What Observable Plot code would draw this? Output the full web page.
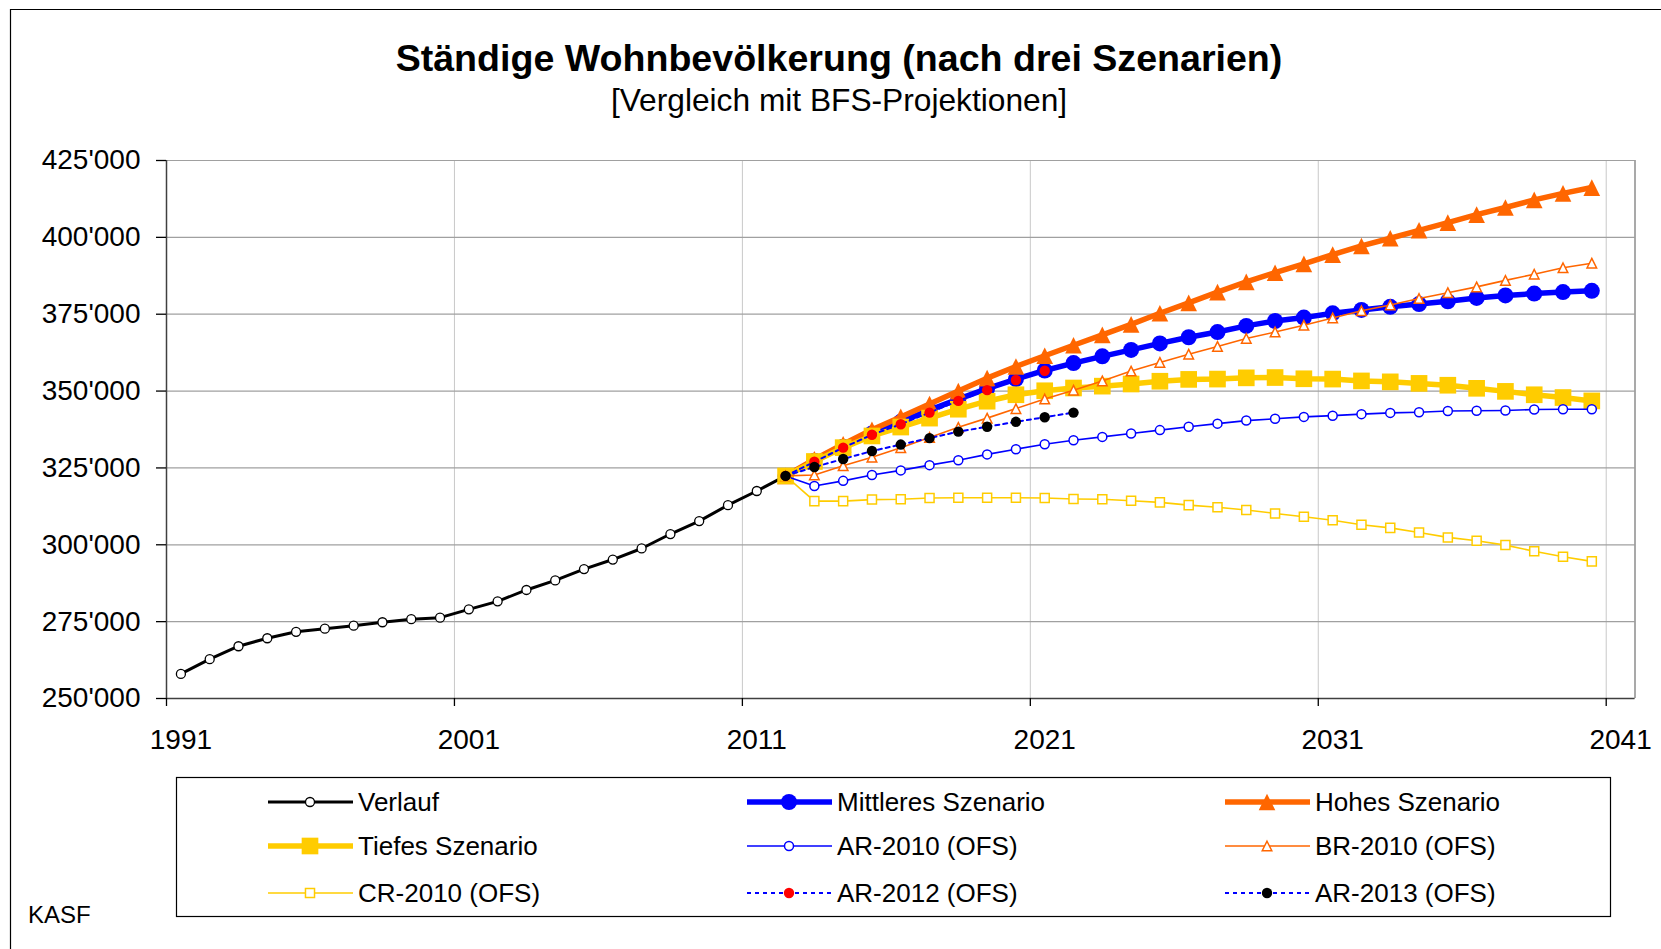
<!DOCTYPE html>
<html><head><meta charset="utf-8">
<script src="https://cdn.jsdelivr.net/npm/d3@7"></script>
<script src="https://cdn.jsdelivr.net/npm/@observablehq/plot@0.6"></script>
<style>
html,body{margin:0;padding:0;background:#fff;}
#wrap{position:relative;width:1661px;height:949px;overflow:hidden;font-family:"Liberation Sans",Arial,sans-serif;background:#fff;}
#chart{position:absolute;left:0;top:0;}
#overlay{position:absolute;left:0;top:0;}
</style></head><body><div id="wrap"><div id="chart"></div></div>
<script>
// ---------- data ----------
const histYears = [1991,1992,1993,1994,1995,1996,1997,1998,1999,2000,2001,2002,2003,2004,2005,2006,2007,2008,2009,2010,2011,2012];
const verlauf = [258000,262800,267000,269600,271700,272700,273700,274800,275800,276300,279000,281600,285300,288400,292100,295200,298800,303500,307700,312900,317500,322400];

const projYears = [2012,2013,2014,2015,2016,2017,2018,2019,2020,2021,2022,2023,2024,2025,2026,2027,2028,2029,2030,2031,2032,2033,2034,2035,2036,2037,2038,2039,2040];
const mittleres = [322400,327300,331900,336200,340000,343800,347400,350800,353900,356700,359100,361300,363400,365500,367500,369200,371200,372800,373900,375300,376400,377400,378300,379200,380300,381100,381700,382200,382600];
const hohes = [322400,327800,332700,337400,341600,345800,350000,354200,358000,361500,364900,368300,371700,375300,378700,382200,385500,388500,391400,394400,397200,399700,402300,404800,407400,409700,412200,414300,416200];
const tiefes = [322400,327100,331600,335400,338300,341200,344100,346700,348800,350100,351000,351600,352300,353200,353800,353900,354300,354400,354000,353900,353300,353000,352500,351900,350900,349900,348800,347900,346800];
const ar2010 = [322400,319100,320800,322700,324200,325900,327500,329400,331100,332700,334000,335100,336200,337300,338400,339400,340400,341000,341600,342000,342500,342900,343100,343500,343600,343700,344000,344100,344100];
const br2010 = [322400,322700,325700,328500,331600,334900,338200,341200,344300,347400,350300,353300,356500,359300,362000,364500,367100,369200,371400,373800,376100,378000,380100,382000,383900,386000,388000,390100,391600];
const cr2010 = [322400,314200,314200,314700,314800,315200,315300,315300,315300,315200,314900,314800,314300,313800,312900,312200,311300,310200,309100,308000,306500,305500,304000,302400,301300,299900,297900,296100,294600];
const ar2012Years = [2012,2013,2014,2015,2016,2017,2018,2019,2020,2021];
const ar2012 = [322400,327000,331600,335800,339200,343000,346800,350300,353600,356600];
const ar2013Years = [2012,2013,2014,2015,2016,2017,2018,2019,2020,2021,2022];
const ar2013 = [322400,325300,327900,330500,332600,334700,336800,338400,340000,341500,343000];

const yTicks = [250000,275000,300000,325000,350000,375000,400000,425000];
const xLabelYears = [1991,2001,2011,2021,2031,2041];
const xBoundaries = [1990.5,2000.5,2010.5,2020.5,2030.5,2040.5];

const title = "Ständige Wohnbevölkerung (nach drei Szenarien)";
const subtitle = "[Vergleich mit BFS-Projektionen]";
const source = "KASF";

// ---------- styles ----------
// Excel-like triangle: as wide as tall, centred on its bounding box
const excelTriangle = {
  draw(ctx, size) {
    const h = Math.sqrt(size) / 2;
    ctx.moveTo(0, -h); ctx.lineTo(h, h); ctx.lineTo(-h, h); ctx.closePath();
  }
};
const symbols = {circle:d3.symbolCircle, triangle:excelTriangle, square:d3.symbolSquare};

const BLUE="#0000ff", ORANGE="#ff6600", YELLOW="#ffcc00", RED="#ff0000", BLACK="#000000";
const series = [
  {name:"Verlauf", years:histYears, values:verlauf, stroke:BLACK, sw:3, symbol:"circle", r:4.5, fill:"#fff", mstroke:BLACK, msw:1.3},
  {name:"Mittleres Szenario", years:projYears, values:mittleres, stroke:BLUE, sw:5.5, symbol:"circle", r:8, fill:BLUE, mstroke:BLUE, msw:0},
  {name:"Hohes Szenario", years:projYears, values:hohes, stroke:ORANGE, sw:5.5, symbol:"triangle", r:9.4, fill:ORANGE, mstroke:ORANGE, msw:0},
  {name:"Tiefes Szenario", years:projYears, values:tiefes, stroke:YELLOW, sw:5.5, symbol:"square", r:9.4, fill:YELLOW, mstroke:YELLOW, msw:0},
  {name:"AR-2010 (OFS)", years:projYears, values:ar2010, stroke:BLUE, sw:1.6, symbol:"circle", r:4.5, fill:"#fff", mstroke:BLUE, msw:1.5},
  {name:"BR-2010 (OFS)", years:projYears, values:br2010, stroke:ORANGE, sw:1.6, symbol:"triangle", r:5.4, fill:"#fff", mstroke:ORANGE, msw:1.5},
  {name:"CR-2010 (OFS)", years:projYears, values:cr2010, stroke:YELLOW, sw:1.6, symbol:"square", r:5.1, fill:"#fff", mstroke:YELLOW, msw:1.5},
  {name:"AR-2012 (OFS)", years:ar2012Years, values:ar2012, stroke:BLUE, sw:2, dash:"4,4", symbol:"circle", r:5.2, fill:RED, mstroke:RED, msw:0},
  {name:"AR-2013 (OFS)", years:ar2013Years, values:ar2013, stroke:BLUE, sw:2, dash:"4,4", symbol:"circle", r:5.2, fill:BLACK, mstroke:BLACK, msw:0}
];

const fmt = d3.formatLocale({decimal:".", thousands:"'", grouping:[3], currency:["",""]}).format(",d");

const marks = [
  Plot.ruleX(xBoundaries.slice(1), {stroke:"#c8c8c8", strokeWidth:1}),
  Plot.ruleY(yTicks, {stroke:"#a0a0a0", strokeWidth:1.2}),
  Plot.ruleX([2041.5], {stroke:"#8c8c8c", strokeWidth:1.5}),
  Plot.ruleX([1990.5], {stroke:"#404040", strokeWidth:1.5}),
  Plot.ruleY([250000], {stroke:"#404040", strokeWidth:1.5}),
  Plot.axisY(yTicks, {tickSize:10, tickPadding:16, tickFormat:fmt, fontSize:28, label:null, strokeWidth:1.3}),
  Plot.axisX(xBoundaries, {tickSize:8, tickFormat:()=>"", label:null, strokeWidth:1.3}),
  Plot.axisX(xLabelYears, {tickSize:0, tickPadding:31, tickFormat:d=>String(d), fontSize:28, label:null})
];
for (const s of series) {
  const rows = s.years.map((y,i)=>({year:y, value:s.values[i]}));
  marks.push(Plot.line(rows, {x:"year", y:"value", stroke:s.stroke, strokeWidth:s.sw, strokeDasharray:s.dash, strokeLinejoin:"round"}));
  marks.push(Plot.dot(rows, {x:"year", y:"value", r:s.r, symbol:symbols[s.symbol], fill:s.fill, stroke:s.mstroke, strokeWidth:s.msw}));
}

const plot = Plot.plot({
  width:1661, height:760,
  marginLeft:166, marginRight:26.5, marginTop:160, marginBottom:62,
  style:{fontFamily:'"Liberation Sans",Arial,sans-serif', color:"#000", background:"transparent", overflow:"visible"},
  x:{type:"linear", domain:[1990.5,2041.5], label:null},
  y:{type:"linear", domain:[250000,425000], label:null},
  marks
});
document.getElementById("chart").appendChild(plot);

// ---------- overlay: frame, titles, legend, source ----------
const svg = d3.select("#wrap").append("svg").attr("id","overlay")
  .attr("width",1661).attr("height",949)
  .style("font-family",'"Liberation Sans",Arial,sans-serif');
svg.append("path").attr("d","M10.5,949V9.5H1661").attr("fill","none").attr("stroke","#000").attr("stroke-width",1.2);
svg.append("text").attr("x",839).attr("y",71).attr("text-anchor","middle").attr("font-size",37.6).attr("font-weight","bold").text(title);
svg.append("text").attr("x",839).attr("y",111).attr("text-anchor","middle").attr("font-size",31.7).text(subtitle);
svg.append("text").attr("x",28).attr("y",923).attr("font-size",24).text(source);

svg.append("rect").attr("x",176.5).attr("y",777.5).attr("width",1434).attr("height",139)
  .attr("fill","none").attr("stroke","#000").attr("stroke-width",1.2);
const colX = [268, 747, 1225];
const rowY = [802, 846, 893];
series.forEach((s,i)=>{
  const cx = colX[i%3], cy = rowY[Math.floor(i/3)];
  const g = svg.append("g");
  g.append("line").attr("x1",cx).attr("x2",cx+85).attr("y1",cy).attr("y2",cy)
    .attr("stroke",s.stroke).attr("stroke-width",s.sw).attr("stroke-dasharray",s.dash||null);
  const rr = s.r;
  g.append("path").attr("d", d3.symbol(symbols[s.symbol], rr*rr*Math.PI)())
    .attr("transform",`translate(${cx+42},${cy})`)
    .attr("fill",s.fill).attr("stroke",s.mstroke).attr("stroke-width",s.msw);
  g.append("text").attr("x",cx+90).attr("y",cy).attr("dy","0.36em").attr("font-size",26).text(s.name);
});
</script></body></html>
